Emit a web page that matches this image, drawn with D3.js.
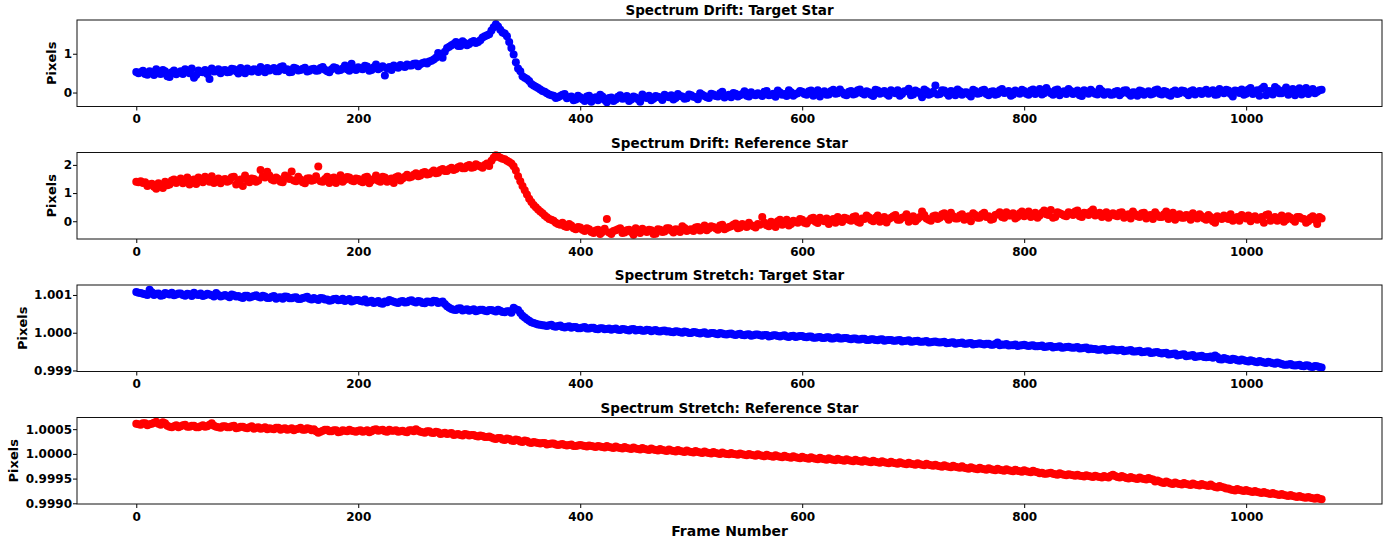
<!DOCTYPE html>
<html>
<head>
<meta charset="utf-8">
<script src="https://cdn.jsdelivr.net/npm/d3@7"></script>
<style>
  body { margin: 0; background: #fff; }
  text { font-family: "DejaVu Sans", sans-serif; font-weight: bold; }
</style>
</head>
<body>
<svg id="chart" width="1394" height="547"></svg>
<script>
// frames read at 0,4,8,... (A) and 2,6,10,... (B)
var framesA = d3.range(0, 1069, 4);
var framesB = d3.range(2, 1069, 4);
var xTicks = [0, 200, 400, 600, 800, 1000];

var driftTargetA = [
  0.53,0.52,0.48,0.55,0.45,0.50,0.58,0.42,0.52,0.47,
  0.55,0.60,0.50,0.38,0.57,0.52,0.48,0.62,0.55,0.50,
  0.58,0.53,0.60,0.49,0.57,0.62,0.54,0.59,0.66,0.52,
  0.57,0.63,0.55,0.68,0.60,0.53,0.62,0.58,0.64,0.56,
  0.61,0.57,0.66,0.55,0.60,0.63,0.58,0.70,0.56,0.62,
  0.65,0.60,0.67,0.58,0.72,0.63,0.44,0.66,0.70,0.64,
  0.68,0.72,0.70,0.75,0.73,0.78,0.80,0.85,1.02,0.90,
  1.15,1.22,1.30,1.20,1.28,1.25,1.33,1.30,1.42,1.48,
  1.60,1.76,1.62,1.52,1.30,0.98,0.62,0.42,0.35,0.22,
  0.15,0.08,0.02,-0.05,-0.08,-0.12,-0.06,-0.15,-0.10,-0.18,
  -0.12,-0.22,-0.08,-0.15,-0.20,-0.10,-0.25,-0.13,-0.18,-0.07,
  -0.15,-0.22,-0.10,-0.17,-0.05,-0.14,-0.20,-0.09,-0.13,-0.06,
  -0.12,-0.18,-0.04,-0.10,-0.15,-0.07,-0.12,-0.02,-0.09,-0.14,
  -0.05,-0.10,0.02,-0.08,-0.12,-0.03,-0.07,0.03,-0.10,-0.05,
  -0.02,-0.09,0.04,-0.06,-0.11,0.00,-0.04,0.06,-0.08,-0.02,
  0.02,-0.06,0.05,-0.03,-0.10,0.03,-0.05,0.07,-0.02,0.01,
  -0.07,0.04,-0.03,0.08,-0.05,0.01,-0.09,0.05,0.00,-0.04,
  0.06,-0.02,-0.08,0.03,0.10,-0.05,0.02,-0.12,0.04,-0.03,
  0.18,-0.04,0.05,-0.08,0.02,0.08,-0.06,0.01,-0.10,0.04,
  -0.02,0.07,-0.07,0.03,-0.04,0.09,0.00,-0.08,0.05,-0.03,
  0.04,-0.06,0.08,0.01,-0.05,0.12,-0.02,0.06,-0.07,0.03,
  0.09,-0.04,0.05,-0.09,0.02,0.07,-0.03,0.10,-0.06,0.01,
  -0.05,0.04,-0.02,0.06,-0.08,0.00,0.05,-0.06,0.03,-0.03,
  0.08,-0.05,0.02,-0.08,0.05,-0.02,0.04,-0.07,0.06,0.01,
  -0.04,0.07,0.02,-0.06,0.09,-0.02,0.05,-0.10,0.04,0.08,
  -0.03,0.12,0.02,-0.08,0.15,0.04,-0.05,0.10,-0.02,0.13,
  0.03,-0.07,0.11,0.05,-0.04,0.09,0.02,0.07
];
var driftTargetB = [
  0.50,0.56,0.46,0.52,0.60,0.48,0.55,0.40,0.57,0.51,
  0.48,0.56,0.62,0.45,0.53,0.58,0.35,0.54,0.60,0.57,
  0.52,0.61,0.55,0.63,0.50,0.56,0.60,0.53,0.58,0.63,
  0.60,0.55,0.66,0.58,0.52,0.64,0.57,0.61,0.54,0.60,
  0.56,0.63,0.59,0.52,0.65,0.57,0.62,0.60,0.74,0.58,
  0.62,0.69,0.56,0.65,0.60,0.68,0.62,0.58,0.66,0.71,
  0.66,0.70,0.74,0.68,0.76,0.75,0.82,0.90,0.95,1.05,
  1.18,1.25,1.20,1.32,1.22,1.30,1.28,1.35,1.45,1.50,
  1.68,1.70,1.55,1.45,1.15,0.78,0.55,0.38,0.30,0.18,
  0.12,0.04,-0.02,-0.07,-0.14,-0.09,-0.04,-0.12,-0.20,-0.08,
  -0.17,-0.10,-0.24,-0.12,-0.06,-0.19,-0.14,-0.22,-0.11,-0.16,
  -0.09,-0.18,-0.13,-0.24,-0.12,-0.08,-0.16,-0.11,-0.19,-0.10,
  -0.07,-0.14,-0.09,-0.16,-0.05,-0.11,-0.17,-0.06,-0.12,-0.03,
  -0.09,-0.02,-0.13,-0.06,-0.01,-0.10,-0.04,-0.08,0.01,-0.07,
  -0.05,0.02,-0.07,-0.03,0.05,-0.06,-0.09,0.01,-0.04,0.04,
  -0.04,0.03,-0.08,0.06,-0.01,-0.06,0.04,-0.03,0.08,-0.05,
  0.02,-0.05,0.06,-0.02,0.03,-0.06,0.07,-0.03,0.04,-0.08,
  0.01,0.06,-0.04,0.03,-0.07,0.05,-0.02,0.08,-0.06,0.02,
  -0.05,0.06,-0.02,0.04,-0.07,0.03,0.00,-0.05,0.07,-0.03,
  0.05,-0.04,0.02,-0.06,0.06,-0.01,0.04,-0.05,0.01,0.07,
  -0.03,0.05,-0.04,0.09,-0.02,0.03,-0.06,0.08,0.00,-0.04,
  0.04,0.00,-0.07,0.06,-0.03,0.02,-0.05,0.04,0.00,-0.06,
  0.02,-0.07,0.05,-0.03,0.01,-0.08,0.03,-0.01,-0.05,0.06,
  -0.03,0.04,-0.06,0.02,-0.04,0.05,-0.02,0.03,-0.05,0.04,
  0.03,-0.03,0.06,-0.05,0.02,0.07,-0.04,0.05,-0.01,-0.06,
  0.08,-0.04,0.06,0.10,-0.07,0.03,0.14,-0.02,0.06,-0.06,
  0.09,0.01,-0.05,0.12,0.04,-0.02,0.06
];

var driftRefA = [
  1.40,1.42,1.38,1.30,1.22,1.35,1.18,1.28,1.45,1.36,
  1.52,1.40,1.30,1.48,1.55,1.38,1.46,1.60,1.42,1.35,
  1.50,1.44,1.58,1.38,1.25,1.47,1.52,1.40,1.82,1.55,
  1.62,1.45,1.50,1.38,1.56,1.77,1.42,1.48,1.35,1.53,
  1.46,1.94,1.40,1.58,1.52,1.36,1.63,1.47,1.55,1.42,
  1.50,1.38,1.58,1.45,1.62,1.40,1.55,1.48,1.36,1.60,
  1.52,1.65,1.58,1.70,1.62,1.75,1.68,1.80,1.72,1.85,
  1.78,1.90,1.85,1.95,1.88,2.00,1.92,1.98,1.90,2.05,
  2.15,2.34,2.25,2.20,2.10,1.95,1.60,1.25,0.95,0.68,
  0.50,0.35,0.20,0.08,0.02,-0.10,-0.05,-0.20,-0.15,-0.28,
  -0.22,-0.35,-0.28,-0.42,-0.30,-0.38,0.08,-0.45,-0.32,-0.25,
  -0.40,-0.30,-0.48,-0.35,-0.27,-0.38,-0.32,-0.44,-0.30,-0.36,
  -0.25,-0.40,-0.30,-0.18,-0.35,-0.28,-0.22,-0.33,-0.15,-0.26,
  -0.20,-0.30,-0.12,-0.24,-0.18,-0.08,-0.22,-0.15,-0.05,-0.18,
  -0.10,0.15,-0.14,-0.02,-0.20,0.05,-0.08,-0.15,0.02,-0.05,
  0.05,-0.08,0.10,-0.02,0.12,0.00,-0.10,0.08,0.15,-0.03,
  0.10,0.02,0.18,-0.05,0.08,0.14,0.00,0.20,0.06,-0.04,
  0.12,0.22,0.05,0.15,-0.02,0.18,0.08,0.35,0.10,0.02,
  0.20,0.12,0.28,0.05,0.18,0.10,0.25,0.15,0.00,0.22,
  0.12,0.30,0.18,0.08,0.25,0.15,0.32,0.20,0.10,0.28,
  0.18,0.35,0.22,0.12,0.30,0.25,0.40,0.15,0.28,0.20,
  0.32,0.22,0.38,0.15,0.28,0.35,0.20,0.30,0.25,0.12,
  0.28,0.18,0.32,0.22,0.10,0.25,0.15,0.30,0.20,0.08,
  0.22,0.15,0.35,0.18,0.05,0.25,0.12,0.20,0.28,0.10,
  0.18,0.05,0.15,-0.05,0.12,0.20,0.08,0.02,0.15,0.22,
  0.10,0.00,0.18,0.08,-0.05,0.25,0.10,0.02,0.20,0.05,
  0.12,-0.02,0.15,0.08,0.00,0.18,-0.10,0.10
];
var driftRefB = [
  1.38,1.36,1.25,1.33,1.15,1.24,1.40,1.30,1.48,1.42,
  1.35,1.55,1.45,1.32,1.50,1.58,1.40,1.36,1.52,1.47,
  1.40,1.56,1.30,1.48,1.62,1.38,1.50,1.45,1.60,1.76,
  1.48,1.55,1.40,1.62,1.50,1.45,1.58,1.38,1.52,1.44,
  1.60,1.42,1.50,1.36,1.55,1.48,1.40,1.57,1.45,1.52,
  1.42,1.55,1.35,1.50,1.44,1.58,1.40,1.52,1.56,1.45,
  1.58,1.55,1.65,1.60,1.72,1.66,1.74,1.70,1.82,1.78,
  1.85,1.82,1.92,1.88,1.96,1.90,2.02,1.94,2.00,1.96,
  2.25,2.30,2.22,2.15,2.05,1.80,1.42,1.10,0.80,0.58,
  0.42,0.28,0.14,0.05,-0.05,-0.12,-0.18,-0.10,-0.25,-0.20,
  -0.30,-0.25,-0.38,-0.33,-0.45,-0.27,-0.40,-0.35,-0.28,-0.42,
  -0.32,-0.38,-0.25,-0.42,-0.33,-0.30,-0.45,-0.28,-0.38,-0.25,
  -0.33,-0.28,-0.38,-0.24,-0.30,-0.35,-0.20,-0.28,-0.32,-0.18,
  -0.25,-0.15,-0.28,-0.20,-0.12,-0.25,-0.10,-0.20,-0.14,-0.22,
  -0.12,-0.05,-0.18,-0.08,0.00,-0.12,0.05,-0.10,-0.02,0.08,
  -0.05,0.02,0.12,-0.06,0.05,0.10,0.02,-0.05,0.08,0.12,
  0.05,0.15,-0.02,0.10,0.20,0.04,0.12,-0.02,0.15,0.08,
  0.18,0.05,0.12,0.25,0.08,0.00,0.15,0.22,0.05,0.18,
  0.08,0.25,0.15,0.30,0.10,0.20,0.05,0.18,0.28,0.12,
  0.25,0.15,0.05,0.22,0.32,0.12,0.20,0.28,0.15,0.35,
  0.25,0.15,0.30,0.20,0.38,0.22,0.12,0.32,0.25,0.18,
  0.28,0.35,0.18,0.30,0.22,0.42,0.25,0.15,0.32,0.22,
  0.20,0.30,0.12,0.25,0.35,0.18,0.28,0.10,0.22,0.32,
  0.15,0.25,0.08,0.30,0.20,0.12,0.22,0.05,0.18,0.25,
  0.10,0.22,0.00,0.18,0.08,0.12,0.25,0.10,0.02,0.15,
  0.20,0.12,0.05,0.15,0.22,0.02,0.15,0.10,-0.02,0.18,
  0.05,0.15,0.10,-0.05,0.12,0.05,0.15
];

var stretchTargetA = [
  1.00108,1.00105,1.00102,1.00114,1.00100,1.00104,1.00099,1.00103,1.00106,1.00101,
  1.00104,1.00098,1.00102,1.00106,1.00100,1.00097,1.00103,1.00099,1.00105,1.00096,
  1.00100,1.00094,1.00099,1.00097,1.00092,1.00098,1.00095,1.00099,1.00093,1.00096,
  1.00092,1.00097,1.00093,1.00090,1.00095,1.00091,1.00094,1.00089,1.00093,1.00090,
  1.00092,1.00087,1.00091,1.00088,1.00086,1.00090,1.00087,1.00084,1.00089,1.00085,
  1.00087,1.00083,1.00080,1.00085,1.00081,1.00078,1.00083,1.00087,1.00082,1.00079,
  1.00084,1.00081,1.00086,1.00080,1.00083,1.00078,1.00082,1.00085,1.00079,1.00083,
  1.00070,1.00063,1.00060,1.00065,1.00061,1.00058,1.00062,1.00059,1.00061,1.00057,
  1.00060,1.00056,1.00058,1.00054,1.00057,1.00066,1.00060,1.00045,1.00036,1.00028,
  1.00024,1.00021,1.00019,1.00020,1.00017,1.00018,1.00015,1.00016,1.00013,1.00015,
  1.00012,1.00015,1.00011,1.00013,1.00009,1.00012,1.00010,1.00008,1.00011,1.00007,
  1.00009,1.00006,1.00010,1.00007,1.00005,1.00008,1.00004,1.00007,1.00003,1.00006,
  1.00004,1.00001,1.00003,1.00000,1.00002,0.99999,1.00001,0.99998,1.00001,0.99997,
  0.99999,0.99996,0.99998,0.99995,0.99998,0.99994,0.99997,0.99993,0.99996,0.99993,
  0.99995,0.99992,0.99994,0.99991,0.99993,0.99990,0.99993,0.99989,0.99992,0.99990,
  0.99991,0.99988,0.99990,0.99987,0.99989,0.99986,0.99988,0.99985,0.99988,0.99985,
  0.99986,0.99983,0.99985,0.99982,0.99984,0.99981,0.99983,0.99980,0.99983,0.99980,
  0.99981,0.99979,0.99981,0.99978,0.99980,0.99977,0.99979,0.99976,0.99978,0.99975,
  0.99977,0.99974,0.99976,0.99973,0.99975,0.99972,0.99974,0.99971,0.99973,0.99970,
  0.99972,0.99969,0.99971,0.99968,0.99974,0.99969,0.99970,0.99967,0.99969,0.99966,
  0.99968,0.99965,0.99967,0.99964,0.99966,0.99963,0.99965,0.99962,0.99964,0.99961,
  0.99963,0.99960,0.99962,0.99959,0.99961,0.99958,0.99957,0.99955,0.99957,0.99954,
  0.99956,0.99953,0.99955,0.99952,0.99954,0.99950,0.99952,0.99949,0.99951,0.99947,
  0.99949,0.99945,0.99947,0.99943,0.99945,0.99941,0.99943,0.99939,0.99941,0.99937,
  0.99939,0.99935,0.99937,0.99940,0.99930,0.99933,0.99929,0.99931,0.99927,0.99929,
  0.99925,0.99927,0.99923,0.99925,0.99921,0.99923,0.99919,0.99921,0.99917,0.99915,
  0.99917,0.99913,0.99915,0.99911,0.99913,0.99909,0.99911,0.99908
];
var stretchTargetB = [
  1.00106,1.00103,1.00100,1.00107,1.00103,1.00098,1.00105,1.00101,1.00099,1.00104,
  1.00100,1.00103,1.00097,1.00101,1.00104,1.00099,1.00101,1.00096,1.00100,1.00098,
  1.00097,1.00101,1.00096,1.00094,1.00098,1.00093,1.00097,1.00095,1.00098,1.00092,
  1.00095,1.00090,1.00094,1.00096,1.00091,1.00093,1.00089,1.00092,1.00095,1.00088,
  1.00089,1.00092,1.00088,1.00085,1.00089,1.00086,1.00090,1.00087,1.00083,1.00087,
  1.00084,1.00088,1.00082,1.00079,1.00084,1.00077,1.00081,1.00084,1.00080,1.00083,
  1.00080,1.00085,1.00082,1.00084,1.00079,1.00083,1.00080,1.00084,1.00081,1.00076,
  1.00066,1.00061,1.00064,1.00059,1.00062,1.00060,1.00057,1.00061,1.00058,1.00060,
  1.00058,1.00061,1.00055,1.00057,1.00053,1.00062,1.00052,1.00040,1.00032,1.00026,
  1.00022,1.00020,1.00018,1.00021,1.00016,1.00019,1.00014,1.00017,1.00015,1.00012,
  1.00014,1.00011,1.00013,1.00010,1.00012,1.00009,1.00011,1.00010,1.00008,1.00010,
  1.00007,1.00009,1.00006,1.00008,1.00005,1.00007,1.00006,1.00004,1.00005,1.00003,
  1.00002,1.00004,1.00001,1.00003,0.99999,1.00002,0.99999,1.00000,0.99997,0.99999,
  0.99997,0.99999,0.99996,0.99997,0.99995,0.99996,0.99994,0.99995,0.99992,0.99995,
  0.99993,0.99994,0.99990,0.99993,0.99991,0.99992,0.99990,0.99991,0.99989,0.99991,
  0.99989,0.99990,0.99987,0.99988,0.99986,0.99988,0.99985,0.99987,0.99985,0.99986,
  0.99984,0.99985,0.99982,0.99984,0.99981,0.99983,0.99981,0.99982,0.99979,0.99981,
  0.99979,0.99980,0.99977,0.99979,0.99976,0.99978,0.99976,0.99977,0.99974,0.99976,
  0.99975,0.99975,0.99972,0.99974,0.99971,0.99973,0.99971,0.99972,0.99969,0.99971,
  0.99970,0.99971,0.99968,0.99970,0.99967,0.99968,0.99966,0.99967,0.99965,0.99967,
  0.99966,0.99966,0.99964,0.99965,0.99962,0.99964,0.99961,0.99963,0.99960,0.99962,
  0.99961,0.99961,0.99958,0.99960,0.99956,0.99957,0.99955,0.99956,0.99953,0.99955,
  0.99954,0.99954,0.99951,0.99953,0.99950,0.99951,0.99948,0.99950,0.99946,0.99948,
  0.99946,0.99946,0.99942,0.99944,0.99940,0.99942,0.99938,0.99940,0.99936,0.99938,
  0.99936,0.99936,0.99934,0.99936,0.99929,0.99931,0.99928,0.99930,0.99926,0.99927,
  0.99924,0.99925,0.99922,0.99923,0.99920,0.99921,0.99918,0.99919,0.99915,0.99916,
  0.99914,0.99914,0.99912,0.99914,0.99910,0.99912,0.99909
];

var stretchRefA = [
  1.00061,1.00059,1.00062,1.00060,1.00063,1.00061,1.00064,1.00057,1.00054,1.00058,
  1.00056,1.00059,1.00055,1.00057,1.00054,1.00058,1.00056,1.00062,1.00055,1.00053,
  1.00056,1.00054,1.00057,1.00053,1.00055,1.00052,1.00056,1.00053,1.00051,1.00054,
  1.00052,1.00050,1.00053,1.00051,1.00049,1.00052,1.00050,1.00053,1.00049,1.00051,
  1.00050,1.00043,1.00047,1.00049,1.00046,1.00048,1.00045,1.00047,1.00049,1.00046,
  1.00047,1.00045,1.00048,1.00046,1.00050,1.00048,1.00046,1.00049,1.00047,1.00045,
  1.00047,1.00044,1.00048,1.00050,1.00045,1.00043,1.00046,1.00042,1.00044,1.00041,
  1.00040,1.00042,1.00039,1.00038,1.00040,1.00037,1.00038,1.00035,1.00036,1.00034,
  1.00033,1.00030,1.00032,1.00028,1.00030,1.00026,1.00028,1.00024,1.00026,1.00022,
  1.00023,1.00021,1.00022,1.00020,1.00021,1.00018,1.00020,1.00017,1.00019,1.00016,
  1.00018,1.00016,1.00017,1.00015,1.00016,1.00014,1.00016,1.00013,1.00015,1.00012,
  1.00014,1.00011,1.00013,1.00010,1.00012,1.00009,1.00011,1.00008,1.00010,1.00007,
  1.00009,1.00006,1.00008,1.00005,1.00007,1.00004,1.00006,1.00003,1.00005,1.00002,
  1.00004,1.00001,1.00003,1.00000,1.00002,0.99999,1.00001,0.99998,1.00000,0.99997,
  0.99999,0.99996,0.99998,0.99995,0.99997,0.99994,0.99996,0.99993,0.99995,0.99992,
  0.99994,0.99991,0.99993,0.99990,0.99992,0.99989,0.99991,0.99988,0.99990,0.99987,
  0.99989,0.99986,0.99988,0.99985,0.99987,0.99984,0.99986,0.99983,0.99985,0.99982,
  0.99984,0.99981,0.99983,0.99980,0.99982,0.99979,0.99981,0.99978,0.99980,0.99977,
  0.99978,0.99975,0.99977,0.99974,0.99976,0.99973,0.99975,0.99971,0.99973,0.99970,
  0.99972,0.99969,0.99971,0.99968,0.99970,0.99967,0.99969,0.99966,0.99968,0.99965,
  0.99967,0.99964,0.99966,0.99963,0.99962,0.99960,0.99962,0.99959,0.99961,0.99958,
  0.99959,0.99957,0.99958,0.99955,0.99957,0.99954,0.99956,0.99953,0.99955,0.99952,
  0.99958,0.99953,0.99955,0.99951,0.99953,0.99950,0.99952,0.99949,0.99951,0.99948,
  0.99946,0.99942,0.99944,0.99940,0.99942,0.99939,0.99941,0.99938,0.99940,0.99937,
  0.99939,0.99936,0.99938,0.99933,0.99935,0.99932,0.99930,0.99927,0.99929,0.99926,
  0.99927,0.99924,0.99925,0.99922,0.99923,0.99920,0.99921,0.99918,0.99919,0.99916,
  0.99917,0.99914,0.99915,0.99912,0.99913,0.99910,0.99911,0.99908
];
var stretchRefB = [
  1.00060,1.00062,1.00058,1.00061,1.00065,1.00059,1.00062,1.00055,1.00056,1.00054,
  1.00058,1.00055,1.00057,1.00054,1.00056,1.00055,1.00059,1.00057,1.00054,1.00056,
  1.00054,1.00056,1.00052,1.00055,1.00053,1.00054,1.00051,1.00054,1.00052,1.00050,
  1.00051,1.00053,1.00049,1.00052,1.00050,1.00048,1.00051,1.00049,1.00052,1.00048,
  1.00046,1.00045,1.00049,1.00046,1.00048,1.00044,1.00048,1.00046,1.00047,1.00045,
  1.00048,1.00046,1.00044,1.00049,1.00047,1.00049,1.00045,1.00047,1.00048,1.00046,
  1.00045,1.00048,1.00046,1.00047,1.00044,1.00046,1.00043,1.00045,1.00040,1.00043,
  1.00041,1.00038,1.00040,1.00037,1.00039,1.00038,1.00036,1.00037,1.00034,1.00035,
  1.00031,1.00032,1.00029,1.00031,1.00027,1.00029,1.00025,1.00027,1.00023,1.00024,
  1.00022,1.00022,1.00019,1.00021,1.00019,1.00019,1.00018,1.00018,1.00016,1.00017,
  1.00017,1.00015,1.00016,1.00014,1.00015,1.00013,1.00014,1.00012,1.00013,1.00011,
  1.00012,1.00010,1.00011,1.00009,1.00010,1.00008,1.00009,1.00007,1.00008,1.00006,
  1.00007,1.00005,1.00006,1.00004,1.00005,1.00003,1.00004,1.00002,1.00003,1.00001,
  1.00002,1.00000,1.00001,0.99999,1.00000,0.99998,0.99999,0.99997,0.99998,0.99996,
  0.99997,0.99995,0.99996,0.99994,0.99995,0.99993,0.99994,0.99992,0.99993,0.99991,
  0.99992,0.99990,0.99991,0.99989,0.99990,0.99988,0.99989,0.99987,0.99988,0.99986,
  0.99987,0.99985,0.99986,0.99984,0.99985,0.99983,0.99984,0.99982,0.99983,0.99981,
  0.99982,0.99980,0.99981,0.99979,0.99980,0.99978,0.99979,0.99977,0.99978,0.99976,
  0.99976,0.99974,0.99975,0.99973,0.99974,0.99972,0.99972,0.99970,0.99971,0.99969,
  0.99970,0.99968,0.99969,0.99967,0.99968,0.99966,0.99967,0.99965,0.99966,0.99964,
  0.99965,0.99963,0.99964,0.99961,0.99960,0.99961,0.99960,0.99958,0.99959,0.99957,
  0.99958,0.99956,0.99956,0.99954,0.99955,0.99953,0.99954,0.99952,0.99953,0.99956,
  0.99955,0.99952,0.99953,0.99950,0.99951,0.99949,0.99950,0.99948,0.99949,0.99944,
  0.99944,0.99941,0.99942,0.99939,0.99940,0.99938,0.99939,0.99937,0.99938,0.99936,
  0.99937,0.99935,0.99935,0.99932,0.99933,0.99930,0.99928,0.99926,0.99927,0.99925,
  0.99925,0.99923,0.99923,0.99921,0.99921,0.99919,0.99919,0.99917,0.99917,0.99915,
  0.99915,0.99913,0.99913,0.99911,0.99911,0.99909,0.99909
];

var panels = [
  {title: "Spectrum Drift: Target Star", a: driftTargetA, b: driftTargetB, color: "#0000ff",
   domain: [-0.36, 1.87], ticks: [0, 1], fmt: d3.format("d")},
  {title: "Spectrum Drift: Reference Star", a: driftRefA, b: driftRefB, color: "#ff0000",
   domain: [-0.63, 2.44], ticks: [0, 1, 2], fmt: d3.format("d")},
  {title: "Spectrum Stretch: Target Star", a: stretchTargetA, b: stretchTargetB, color: "#0000ff",
   domain: [0.998973, 1.001264], ticks: [0.999, 1.000, 1.001], fmt: d3.format(".3f")},
  {title: "Spectrum Stretch: Reference Star", a: stretchRefA, b: stretchRefB, color: "#ff0000",
   domain: [0.998986, 1.000736], ticks: [0.9990, 0.9995, 1.0000, 1.0005], fmt: d3.format(".4f")}
];

var left = 77, right = 1382;
var panelH = 86.5, firstTop = 20, step = 132.5;

var svg = d3.select("#chart");

var x = d3.scaleLinear().domain([-53.4, 1122.4]).range([left, right]);

panels.forEach(function(p, k) {
  var top = firstTop + k * step;
  var y = d3.scaleLinear().domain(p.domain).range([top + panelH, top]);

  var pts = p.a.map(function(v, i) { return {f: framesA[i], v: v}; })
    .concat(p.b.map(function(v, i) { return {f: framesB[i], v: v}; }));
  pts.sort(function(m, n) { return m.f - n.f; });

  var g = svg.append("g");

  g.selectAll("circle")
    .data(pts)
    .enter().append("circle")
    .attr("cx", function(d) { return x(d.f); })
    .attr("cy", function(d) { return y(d.v); })
    .attr("r", 4)
    .style("fill", p.color);

  var xAxis = g.append("g")
    .attr("transform", "translate(0," + (top + panelH) + ")")
    .call(d3.axisBottom(x).tickValues(xTicks).tickFormat(d3.format("d")).tickSize(4).tickPadding(4));

  var yAxis = g.append("g")
    .attr("transform", "translate(" + left + ",0)")
    .call(d3.axisLeft(y).tickValues(p.ticks).tickFormat(p.fmt).tickSize(4).tickPadding(1));

  [xAxis, yAxis].forEach(function(a) {
    a.select(".domain").remove();
    a.selectAll("text").style("font-size", "12px").style("fill", "#000");
    a.selectAll("line").style("stroke", "#000");
  });

  g.append("rect")
    .attr("x", left)
    .attr("y", top)
    .attr("width", right - left)
    .attr("height", panelH)
    .style("fill", "none")
    .style("stroke", "#111")
    .style("stroke-width", 1);

  g.append("text")
    .attr("x", (left + right) / 2)
    .attr("y", top - 5)
    .style("text-anchor", "middle")
    .style("font-size", "13.5px")
    .text(p.title);

  var minX = d3.min(yAxis.selectAll("text").nodes(), function(n) { return n.getBBox().x; });
  var labX = left + minX - 12;
  g.append("text")
    .attr("transform", "translate(" + labX + "," + (top + panelH / 2) + ") rotate(-90)")
    .attr("dy", "0.35em")
    .style("text-anchor", "middle")
    .style("font-size", "13px")
    .text("Pixels");
});

svg.append("text")
  .attr("x", (left + right) / 2)
  .attr("y", 536)
  .style("text-anchor", "middle")
  .style("font-size", "14px")
  .text("Frame Number");
</script>
</body>
</html>
